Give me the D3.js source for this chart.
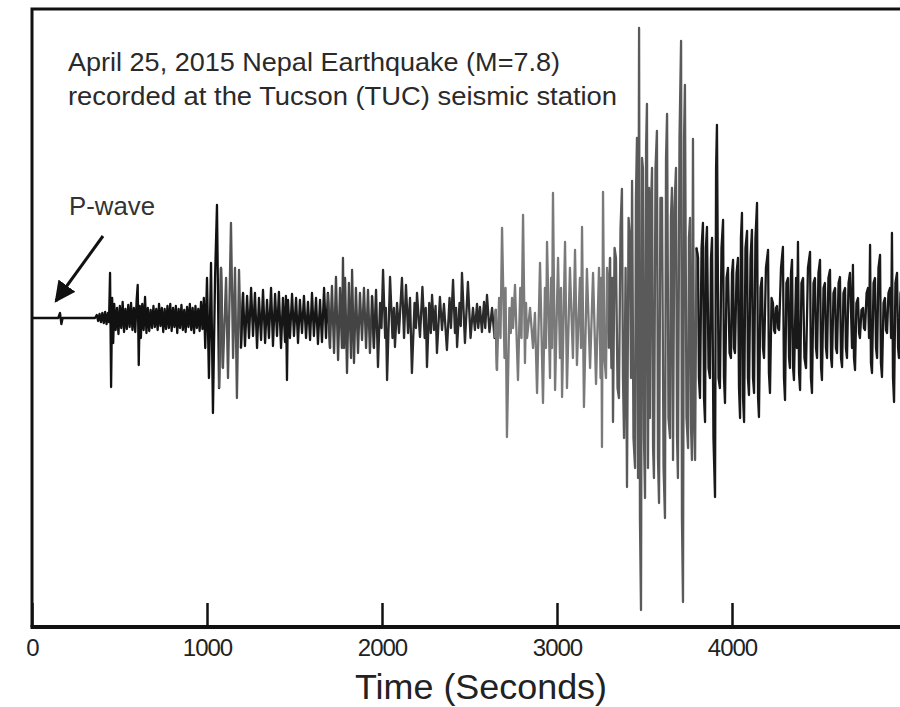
<!DOCTYPE html>
<html>
<head>
<meta charset="utf-8">
<script src="https://cdn.jsdelivr.net/npm/d3@7"></script>
<style>
  body { margin: 0; background: #fff; }
  svg { display: block; font-family: "Liberation Sans", Arial, sans-serif; }
</style>
</head>
<body>
<svg id="chart" width="900" height="707"></svg>
<script>
// --- data (time in s, amplitude in plot units, + is up) ---
const titleLines = [
  "April 25, 2015 Nepal Earthquake (M=7.8)",
  "recorded at the Tucson (TUC) seismic station"
];
const xTicks = [0, 1000, 2000, 3000, 4000];
const xLabel = "Time (Seconds)";
const pLabel = "P-wave";
const pArrival = 165;

const quietPart = [
  [0, 0], [150, 0], [160, 5], [168, -6], [175, 0], [360, 0],
  [370, 3], [378, -3], [386, 4], [394, -4], [402, 5], [410, -5], [418, 6], [426, -6],
  [434, 5], [440, -4], [446, 45], [452, -69], [458, 20], [464, -25]
];
const earlyNoise = [
  [470, 14], [478, -12], [486, 10], [494, -16], [502, 12], [510, -10], [518, 16], [526, -14],
  [534, 9], [542, -11], [550, 13], [558, -9], [566, 15], [574, -12], [582, 10], [590, -14],
  [598, 18], [604, 33], [610, -47], [616, 12], [622, -20], [630, 14], [638, -12], [646, 21],
  [654, -15], [662, 10], [670, -13], [678, 8], [686, -10], [694, 12], [702, -9], [710, 9],
  [718, -12], [726, 14], [734, -8], [742, 10], [750, -14], [758, 9], [766, -11], [774, 12],
  [782, -10], [790, 14], [798, -13], [806, 10], [814, -9], [822, 12], [830, -15], [838, 9],
  [846, -10], [854, 13], [862, -12], [870, 8], [878, -14], [886, 11], [894, -9], [902, 14],
  [910, -12], [918, 10], [926, -15], [934, 12], [942, -10], [950, 9], [958, -13], [966, 16],
  [974, -11], [982, 20], [990, -30]
];
const firstBurst = [
  [1000, 40], [1011, -60], [1023, 55], [1034, -95], [1046, 40], [1057, 113], [1069, -70],
  [1080, 50], [1091, -50], [1109, 40], [1120, -60], [1137, 95], [1149, -40], [1160, 50],
  [1171, -80], [1183, 48], [1194, -30], [1206, 25]
];
const midNoise = [
  [1217, -28], [1229, 22], [1240, -20], [1252, 30], [1263, -18], [1274, 25], [1286, -30],
  [1297, 20], [1309, -22], [1320, 28], [1332, -25], [1343, 18], [1354, -20], [1366, 30],
  [1377, -28], [1389, 24], [1400, -18], [1411, 26], [1423, -30], [1434, 20], [1446, -24],
  [1451, 22], [1457, -62], [1463, 18], [1474, -20], [1486, 24], [1497, -18], [1509, 20],
  [1520, -25], [1531, 18], [1543, -15], [1554, 22], [1566, -20], [1577, 16], [1589, -22],
  [1600, 25], [1611, -18], [1623, 20], [1634, -26], [1646, 18], [1657, -24], [1669, 30],
  [1680, -20], [1691, 25], [1703, -30],
  [1714, 32], [1726, -35], [1737, 41], [1749, -42], [1760, 30], [1771, -30], [1777, 60],
  [1783, -30], [1789, 40], [1800, -55], [1811, 35], [1823, -40], [1829, 48], [1840, -45],
  [1851, 30], [1863, -35], [1874, 25], [1886, -22], [1897, 30], [1909, -30], [1920, 28],
  [1931, -35]
];
const secondPart = [
  [1943, 22], [1954, -30], [1966, 28], [1977, -49], [1989, 15], [1997, -10], [2006, 48],
  [2018, -20], [2022, 10], [2029, -62], [2046, 41], [2060, -20], [2068, 10], [2074, -29],
  [2086, 15], [2097, -15], [2114, 40], [2126, -20], [2137, 33], [2149, -15], [2160, 20],
  [2171, -55], [2186, 15], [2194, -10], [2200, 25], [2217, -19], [2231, 31], [2244, -20],
  [2250, 10], [2257, -49], [2270, 15], [2279, -15], [2286, 23], [2297, -12], [2306, 12],
  [2314, -35], [2331, 21], [2343, -12], [2354, 14], [2371, -32], [2386, 20], [2394, -10],
  [2406, 38], [2417, -15], [2423, 10], [2429, -29], [2443, 15], [2450, -8], [2457, 45],
  [2474, -25], [2491, 36], [2506, -20], [2520, 10], [2531, -12], [2543, 14], [2550, -10],
  [2560, 11], [2571, -14], [2583, 16], [2590, -10], [2600, 23], [2614, -14], [2629, 10],
  [2643, -20], [2650, 8], [2657, -52], [2669, 20], [2677, -20]
];
const surfaceWaves = [
  [2686, 90], [2700, -40], [2706, 30], [2714, -119], [2728, 10], [2736, -15], [2743, 20],
  [2749, -10], [2760, 33], [2777, -62], [2790, 30], [2797, -20], [2806, 103], [2817, -45],
  [2823, 15], [2829, -20], [2846, 10], [2863, -30], [2874, 5], [2886, -75], [2903, 55],
  [2920, -85], [2931, 30], [2937, -30], [2943, 76], [2960, -60], [2966, 40], [2971, -30],
  [2977, 125], [2989, -72], [3006, 60], [3017, -40], [3023, 30], [3029, -79], [3046, 76],
  [3057, -70], [3074, 50], [3091, -40], [3103, 68], [3114, -47], [3131, 40], [3137, -30],
  [3143, 91], [3154, -89], [3171, 49], [3189, -50], [3206, 45], [3223, -66], [3240, 50],
  [3249, -60], [3253, 40], [3257, -129], [3263, 126], [3271, -40], [3280, -60], [3286, 50],
  [3291, 40], [3297, -30], [3303, 60], [3311, -50], [3316, 40], [3320, -104], [3329, 70],
  [3337, 60], [3346, -70], [3354, -80], [3363, 90], [3371, 129], [3377, -60], [3383, -120],
  [3392, 50], [3400, -169], [3409, 100], [3417, 80], [3423, -60], [3429, 137], [3437, -120],
  [3446, -150], [3451, 120], [3457, 180], [3463, -160], [3469, 290], [3474, -200], [3480, -292],
  [3486, 160], [3491, 150], [3497, -120], [3503, -180], [3509, 170], [3514, 214], [3520, -150],
  [3526, 130], [3531, -100], [3537, 110], [3543, 150], [3549, -130], [3554, -160], [3563, 150],
  [3571, 187], [3577, -140], [3583, -185], [3591, 120], [3600, 120], [3609, -150], [3617, -200],
  [3623, 160], [3629, 204], [3637, -100], [3646, -120], [3651, 100], [3657, 130], [3663, -142],
  [3671, 110], [3680, 150], [3686, -120], [3691, -160], [3700, 180], [3709, 277], [3714, -200],
  [3720, -284], [3726, 180], [3731, 233], [3740, -100], [3749, -130], [3754, 80], [3760, 100],
  [3766, -110], [3771, -142], [3777, 179], [3783, -100], [3789, -142], [3797, 70]
];
const coda = [
  [3806, 60], [3811, -60], [3817, -80], [3826, 70], [3834, 95], [3840, -80], [3846, -104],
  [3851, 70], [3857, 91], [3866, -50], [3874, -60], [3880, 60], [3886, 80], [3894, -120],
  [3903, -179], [3909, 150], [3914, 193], [3923, -60], [3931, -70], [3940, 70], [3949, 98],
  [3954, -60], [3960, -85], [3969, 40], [3977, 50], [3986, -35], [3994, -40], [4000, 45],
  [4006, 58], [4011, -30], [4017, -35], [4026, 45], [4034, 60], [4040, -70], [4046, -100],
  [4051, 80], [4057, 105], [4063, -80], [4069, -104], [4077, 70], [4086, 87], [4091, -60],
  [4097, -77], [4106, 60], [4114, 88], [4120, -60], [4126, -75], [4134, 80], [4143, 115],
  [4149, -80], [4154, -99], [4163, 30], [4171, 40], [4177, -30], [4183, -40], [4194, 50],
  [4206, 68], [4211, -55], [4217, -75], [4226, 20], [4234, 15], [4240, -12], [4246, -15],
  [4251, 10], [4257, 12], [4263, -10], [4269, -12], [4280, 50], [4291, 71], [4297, -60],
  [4303, -82], [4311, 35], [4320, 40], [4326, -40], [4331, -50], [4337, 45], [4343, 58],
  [4349, -50], [4354, -62], [4366, 40], [4371, -30], [4377, 76], [4383, -55], [4389, -72],
  [4397, 35], [4406, 40], [4414, -40], [4423, -50], [4434, 50], [4446, 66], [4451, -60],
  [4457, -75], [4466, 35], [4474, 40], [4480, -30], [4486, -40], [4494, 45], [4503, 58],
  [4509, -50], [4514, -62], [4523, 30], [4531, 35], [4537, -30], [4543, -40], [4551, 40],
  [4560, 48], [4566, -40], [4571, -49], [4580, 25], [4589, 30], [4594, -30], [4600, -35],
  [4609, 35], [4617, 41], [4623, -40], [4629, -49], [4637, 25], [4646, 30], [4651, -30],
  [4657, -40], [4666, 35], [4674, 45], [4686, -30], [4691, 53], [4697, -40], [4703, -52],
  [4711, 15], [4720, 20], [4726, -15], [4731, -20], [4740, 8], [4749, 10], [4754, -10],
  [4760, -12], [4769, 25], [4777, 30], [4783, -20], [4789, 73], [4794, -45], [4800, -55],
  [4809, 35], [4817, 40], [4823, -30], [4829, -40], [4837, 50], [4846, 63], [4851, -45],
  [4857, -59], [4866, 15], [4874, 20], [4880, -12], [4886, -15], [4894, 25], [4903, 30],
  [4909, -20], [4914, 85], [4920, -60], [4926, -84], [4934, 35], [4943, 45], [4949, -30],
  [4954, -40], [4963, 25], [4971, 30], [4980, -15], [4990, -20]
];
// trace tone by time window (the original mixes black and grey pieces)
const toneBands = [
  [0, 1080, "#111"], [1080, 1200, "#555"], [1200, 1700, "#161616"], [1700, 1950, "#444"],
  [1950, 2650, "#2a2a2a"], [2650, 3300, "#7a7a7a"], [3300, 3800, "#5a5a5a"], [3800, 5000, "#191919"]
];

const trace = [].concat(quietPart, earlyNoise, firstBurst, midNoise, secondPart, surfaceWaves, coda);

const svg = d3.select("#chart");
const plotLeft = 32, plotTop = 9, plotBottom = 627, plotRight = 907;

const x = d3.scaleLinear().domain([0, 5000]).range([plotLeft, plotRight]);
const y = d3.scaleLinear().domain([-310, 310]).range([plotBottom + 1, plotTop - 1]);

// waveform, one path per tone band so neighbouring pieces join up
const line = d3.line().x(d => x(d[0])).y(d => y(d[1]));
toneBands.forEach(([t0, t1, col]) => {
  let i0 = trace.findIndex(d => d[0] >= t0);
  let i1 = trace.findIndex(d => d[0] > t1);
  if (i1 < 0) i1 = trace.length;
  const piece = trace.slice(Math.max(0, i0 - 1), Math.min(trace.length, i1 + 1));
  svg.append("path")
    .datum(piece)
    .attr("fill", "none")
    .attr("stroke", col)
    .attr("stroke-width", 2.3)
    .attr("stroke-linejoin", "round")
    .attr("d", line);
});

// frame (right side runs off the picture)
svg.append("path")
  .attr("d", `M${plotRight + 20},${plotTop} H${plotLeft} V${plotBottom}`)
  .attr("fill", "none")
  .attr("stroke", "#111")
  .attr("stroke-width", 3);

const axis = d3.axisBottom(x)
  .tickValues(xTicks)
  .tickSizeInner(-24)
  .tickSizeOuter(0)
  .tickPadding(12)
  .tickFormat(d3.format("d"));

const gx = svg.append("g")
  .attr("transform", `translate(0,${plotBottom})`)
  .call(axis);
gx.select(".domain").remove();
gx.selectAll(".tick line").attr("stroke", "#111").attr("stroke-width", 2.5);
gx.selectAll(".tick text")
  .attr("fill", "#222")
  .style("font-size", "24px")
  .style("letter-spacing", "-1px")
  .style("font-family", "'Liberation Sans', Arial, sans-serif");

svg.append("line")
  .attr("x1", plotLeft - 1.5).attr("x2", plotRight + 20)
  .attr("y1", plotBottom).attr("y2", plotBottom)
  .attr("stroke", "#111")
  .attr("stroke-width", 4);

svg.append("text")
  .attr("x", 481)
  .attr("y", 699)
  .attr("text-anchor", "middle")
  .attr("fill", "#222")
  .style("font-size", "35px")
  .attr("textLength", 252)
  .attr("lengthAdjust", "spacingAndGlyphs")
  .text(xLabel);

// title block
const titleWidths = [492, 549];
svg.append("g")
  .selectAll("text")
  .data(titleLines)
  .join("text")
  .attr("x", 68)
  .attr("y", (d, i) => 71 + i * 34)
  .attr("fill", "#2a2a2a")
  .style("font-size", "25px")
  .attr("textLength", (d, i) => titleWidths[i])
  .attr("lengthAdjust", "spacingAndGlyphs")
  .text(d => d);

// P-wave label and arrow
svg.append("text")
  .attr("x", 69)
  .attr("y", 215)
  .attr("fill", "#333")
  .style("font-size", "25px")
  .attr("textLength", 86)
  .attr("lengthAdjust", "spacingAndGlyphs")
  .text(pLabel);

const tipX = x(pArrival) - 5, tipY = y(0) - 17;
svg.append("defs").append("marker")
  .attr("id", "head")
  .attr("viewBox", "0 0 10 10")
  .attr("refX", 9).attr("refY", 5)
  .attr("markerWidth", 7).attr("markerHeight", 7)
  .attr("markerUnits", "strokeWidth")
  .attr("orient", "auto")
  .append("path")
  .attr("d", "M0,0 L10,5 L0,10 z")
  .attr("fill", "#111");

svg.append("line")
  .attr("x1", 103).attr("y1", 236)
  .attr("x2", tipX).attr("y2", tipY)
  .attr("stroke", "#111")
  .attr("stroke-width", 3)
  .attr("marker-end", "url(#head)");
</script>
</body>
</html>
